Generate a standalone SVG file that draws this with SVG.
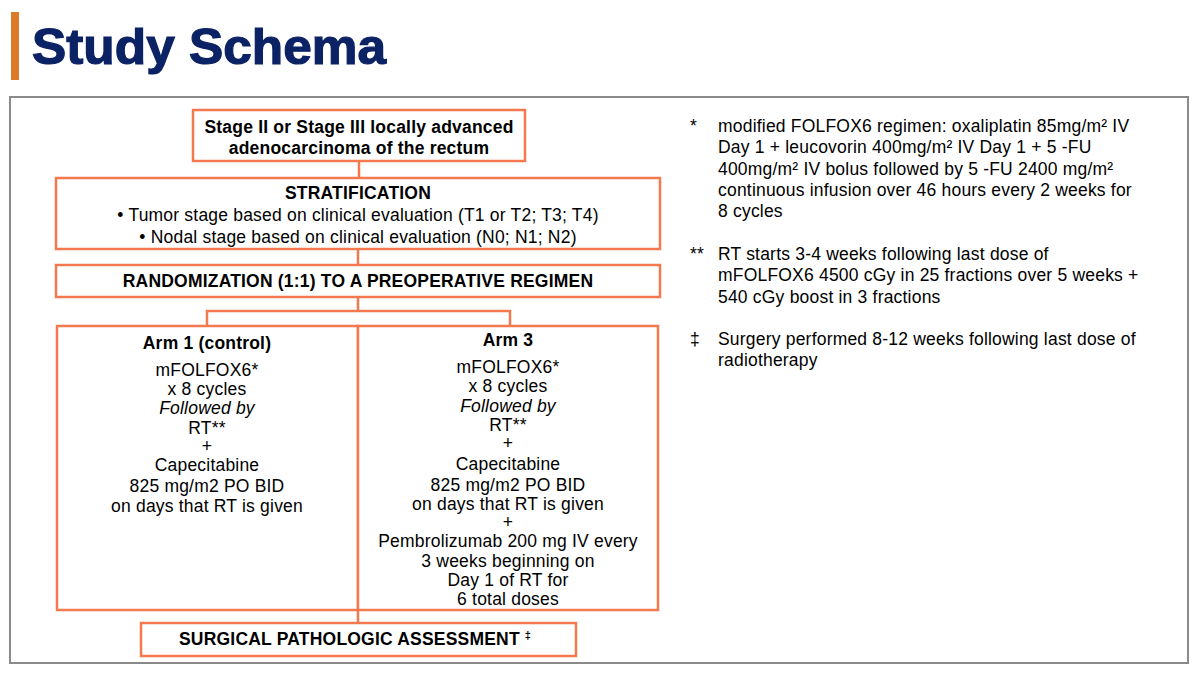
<svg xmlns="http://www.w3.org/2000/svg" width="1200" height="676" viewBox="0 0 1200 676">
<style>
text{font-family:"Liberation Sans",Arial,sans-serif;font-size:17.5px;letter-spacing:0.2px;fill:#000}
.c{text-anchor:middle}
.b{font-weight:bold}
.i{font-style:italic}
.box{fill:#fff;stroke:#F4794F;stroke-width:2.5}
.ln{fill:none;stroke:#F4794F;stroke-width:2.5}
</style>
<rect width="1200" height="676" fill="#fff"/>
<g id="title">
<rect x="11" y="12" width="8" height="68" fill="#DD7A2A"/>
<text x="32" y="64" style="font-size:50px;font-weight:bold;fill:#0B2265;stroke:#0B2265;stroke-width:1.2;letter-spacing:0" textLength="354" lengthAdjust="spacingAndGlyphs">Study Schema</text>
</g>
<rect id="frame" x="10" y="97" width="1178" height="566" fill="none" stroke="#8A8A8A" stroke-width="2"/>
<g id="connectors">
<line class="ln" x1="359" y1="161" x2="359" y2="178"/>
<line class="ln" x1="358" y1="249" x2="358" y2="265"/>
<polyline class="ln" points="358,297 358,311"/>
<polyline class="ln" points="207,326 207,311 510,311 510,326"/>
<line class="ln" x1="358" y1="610" x2="358" y2="623"/>
</g>
<g id="population">
<rect class="box" x="193" y="110" width="332" height="51"/>
<text class="c b" x="359" y="133">Stage II or Stage III locally advanced</text>
<text class="c b" x="359" y="154">adenocarcinoma of the rectum</text>
</g>
<g id="stratification">
<rect class="box" x="56" y="178" width="604" height="71"/>
<text class="c b" x="358" y="199">STRATIFICATION</text>
<text class="c" x="358" y="221">• Tumor stage based on clinical evaluation (T1 or T2; T3; T4)</text>
<text class="c" x="358" y="243">• Nodal stage based on clinical evaluation (N0; N1; N2)</text>
</g>
<g id="randomization">
<rect class="box" x="56" y="265" width="604" height="32"/>
<text class="c b" x="358" y="287">RANDOMIZATION (1:1) TO A PREOPERATIVE REGIMEN</text>
</g>
<g id="arm1">
<rect class="box" x="57" y="326" width="301" height="284"/>
<text class="c b" x="207" y="349">Arm 1 (control)</text>
<text class="c" x="207" y="376">mFOLFOX6*</text>
<text class="c" x="207" y="395">x 8 cycles</text>
<text class="c i" x="207" y="414">Followed by</text>
<text class="c" x="207" y="434">RT**</text>
<text class="c" x="207" y="452">+</text>
<text class="c" x="207" y="471">Capecitabine</text>
<text class="c" x="207" y="492">825 mg/m2 PO BID</text>
<text class="c" x="207" y="512">on days that RT is given</text>
</g>
<g id="arm3">
<rect class="box" x="358" y="326" width="300" height="284"/>
<text class="c b" x="508" y="346">Arm 3</text>
<text class="c" x="508" y="373">mFOLFOX6*</text>
<text class="c" x="508" y="392">x 8 cycles</text>
<text class="c i" x="508" y="412">Followed by</text>
<text class="c" x="508" y="431">RT**</text>
<text class="c" x="508" y="449">+</text>
<text class="c" x="508" y="470">Capecitabine</text>
<text class="c" x="508" y="491">825 mg/m2 PO BID</text>
<text class="c" x="508" y="510">on days that RT is given</text>
<text class="c" x="508" y="528">+</text>
<text class="c" x="508" y="547">Pembrolizumab 200 mg IV every</text>
<text class="c" x="508" y="567">3 weeks beginning on</text>
<text class="c" x="508" y="586">Day 1 of RT for</text>
<text class="c" x="508" y="605">6 total doses</text>
</g>
<g id="surgery">
<rect class="box" x="141" y="623" width="435" height="33"/>
<text class="b" x="179" y="645">SURGICAL PATHOLOGIC ASSESSMENT <tspan style="font-size:11px" dy="-6">‡</tspan></text>
</g>
<g id="notes">
<text x="690" y="132">*</text>
<text x="718" y="132">modified FOLFOX6 regimen: oxaliplatin 85mg/m² IV</text>
<text x="718" y="153.3">Day 1 + leucovorin 400mg/m² IV Day 1 + 5 -FU</text>
<text x="718" y="174.6">400mg/m² IV bolus followed by 5 -FU 2400 mg/m²</text>
<text x="718" y="196">continuous infusion over 46 hours every 2 weeks for</text>
<text x="718" y="217.3">8 cycles</text>
<text x="690" y="260">**</text>
<text x="718" y="260">RT starts 3-4 weeks following last dose of</text>
<text x="718" y="281.3">mFOLFOX6 4500 cGy in 25 fractions over 5 weeks +</text>
<text x="718" y="302.6">540 cGy boost in 3 fractions</text>
<text x="690" y="345">‡</text>
<text x="718" y="345">Surgery performed 8-12 weeks following last dose of</text>
<text x="718" y="366.3">radiotherapy</text>
</g>
</svg>
